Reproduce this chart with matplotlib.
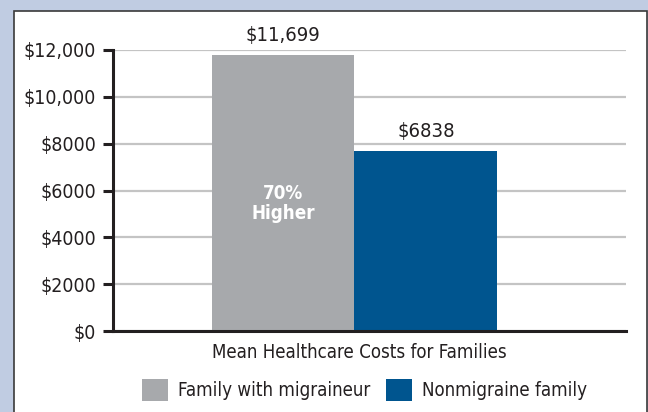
import numpy as np
import matplotlib
matplotlib.use("Agg")
import matplotlib.pyplot as plt
from matplotlib import font_manager
from matplotlib.patches import Rectangle, Patch

# data
groups = ["Family with migraineur", "Nonmigraine family"]
bar_heights = [11790, 7690]          # heights as drawn
value_labels = ["$11,699", "$6838"]  # printed values
colors = ["#a7a9ac", "#00558f"]
yticks = [0, 2000, 4000, 6000, 8000, 10000, 12000]
ytick_labels = ["$0", "$2000", "$4000", "$6000", "$8000", "$10,000", "$12,000"]
xlabel = "Mean Healthcare Costs for Families"
note = "70%\nHigher"

# condensed sans: narrow Liberation if present, else condensed DejaVu
names = {f.name for f in font_manager.fontManager.ttflist}
if "Liberation Sans Narrow" in names:
    plt.rcParams["font.family"] = ["Liberation Sans Narrow", "DejaVu Sans"]
else:
    plt.rcParams["font.family"] = ["DejaVu Sans"]
    plt.rcParams["font.stretch"] = "condensed"

dark = "#231f20"

fig = plt.figure(figsize=(6.48, 4.12), dpi=100, facecolor="#c0cce2")
# white panel with thin dark border
fig.patches.append(Rectangle((14 / 648, -0.05), 633 / 648, 1 - 11 / 412 + 0.05,
                             transform=fig.transFigure, facecolor="white",
                             edgecolor="#3a3a3a", linewidth=1.2, zorder=-5))

ax = fig.add_axes([113 / 648, 81 / 412, 513 / 648, 281 / 412])
ax.set_facecolor("none")

x = np.arange(len(groups))
bars = ax.bar(x, bar_heights, width=1.0, color=colors, zorder=3)
ax.set_xlim(-1.19, 2.40)
ax.set_ylim(0, 12000)

ax.set_yticks(yticks)
ax.set_yticklabels(ytick_labels, fontsize=14, color=dark)
ax.tick_params(axis="y", length=7, width=2.2, color=dark, pad=5)
ax.set_xticks([])
ax.yaxis.grid(True, color="#c4c4c4", linewidth=1.6, zorder=0)
ax.set_axisbelow(True)

for side in ["top", "right"]:
    ax.spines[side].set_visible(False)
for side in ["left", "bottom"]:
    ax.spines[side].set_color(dark)
    ax.spines[side].set_linewidth(2.2)
    ax.spines[side].set_zorder(4)

for b, lab in zip(bars, value_labels):
    ax.annotate(lab, (b.get_x() + b.get_width() / 2, b.get_height()),
                xytext=(0, 7), textcoords="offset points",
                ha="center", va="bottom", fontsize=14.5, color=dark)

ax.text(x[0], 5450, note, ha="center", va="center", fontsize=13.5,
        fontweight="bold", color="white", linespacing=1.05, zorder=5)

fig.text(359.5 / 648, 1 - 352 / 412, xlabel, ha="center", va="center",
         fontsize=13.4, color=dark)

handles = [Patch(facecolor=c, edgecolor="none") for c in colors]
fig.legend(handles, groups, loc="center", bbox_to_anchor=(364.5 / 648, 1 - 390 / 412),
           ncol=2, frameon=False, fontsize=13.4, handlelength=1.4, handleheight=1.4,
           handletextpad=0.55, columnspacing=0.85, labelcolor=dark,
           borderpad=0, borderaxespad=0)

fig.savefig("out.png", dpi=100, facecolor=fig.get_facecolor())
